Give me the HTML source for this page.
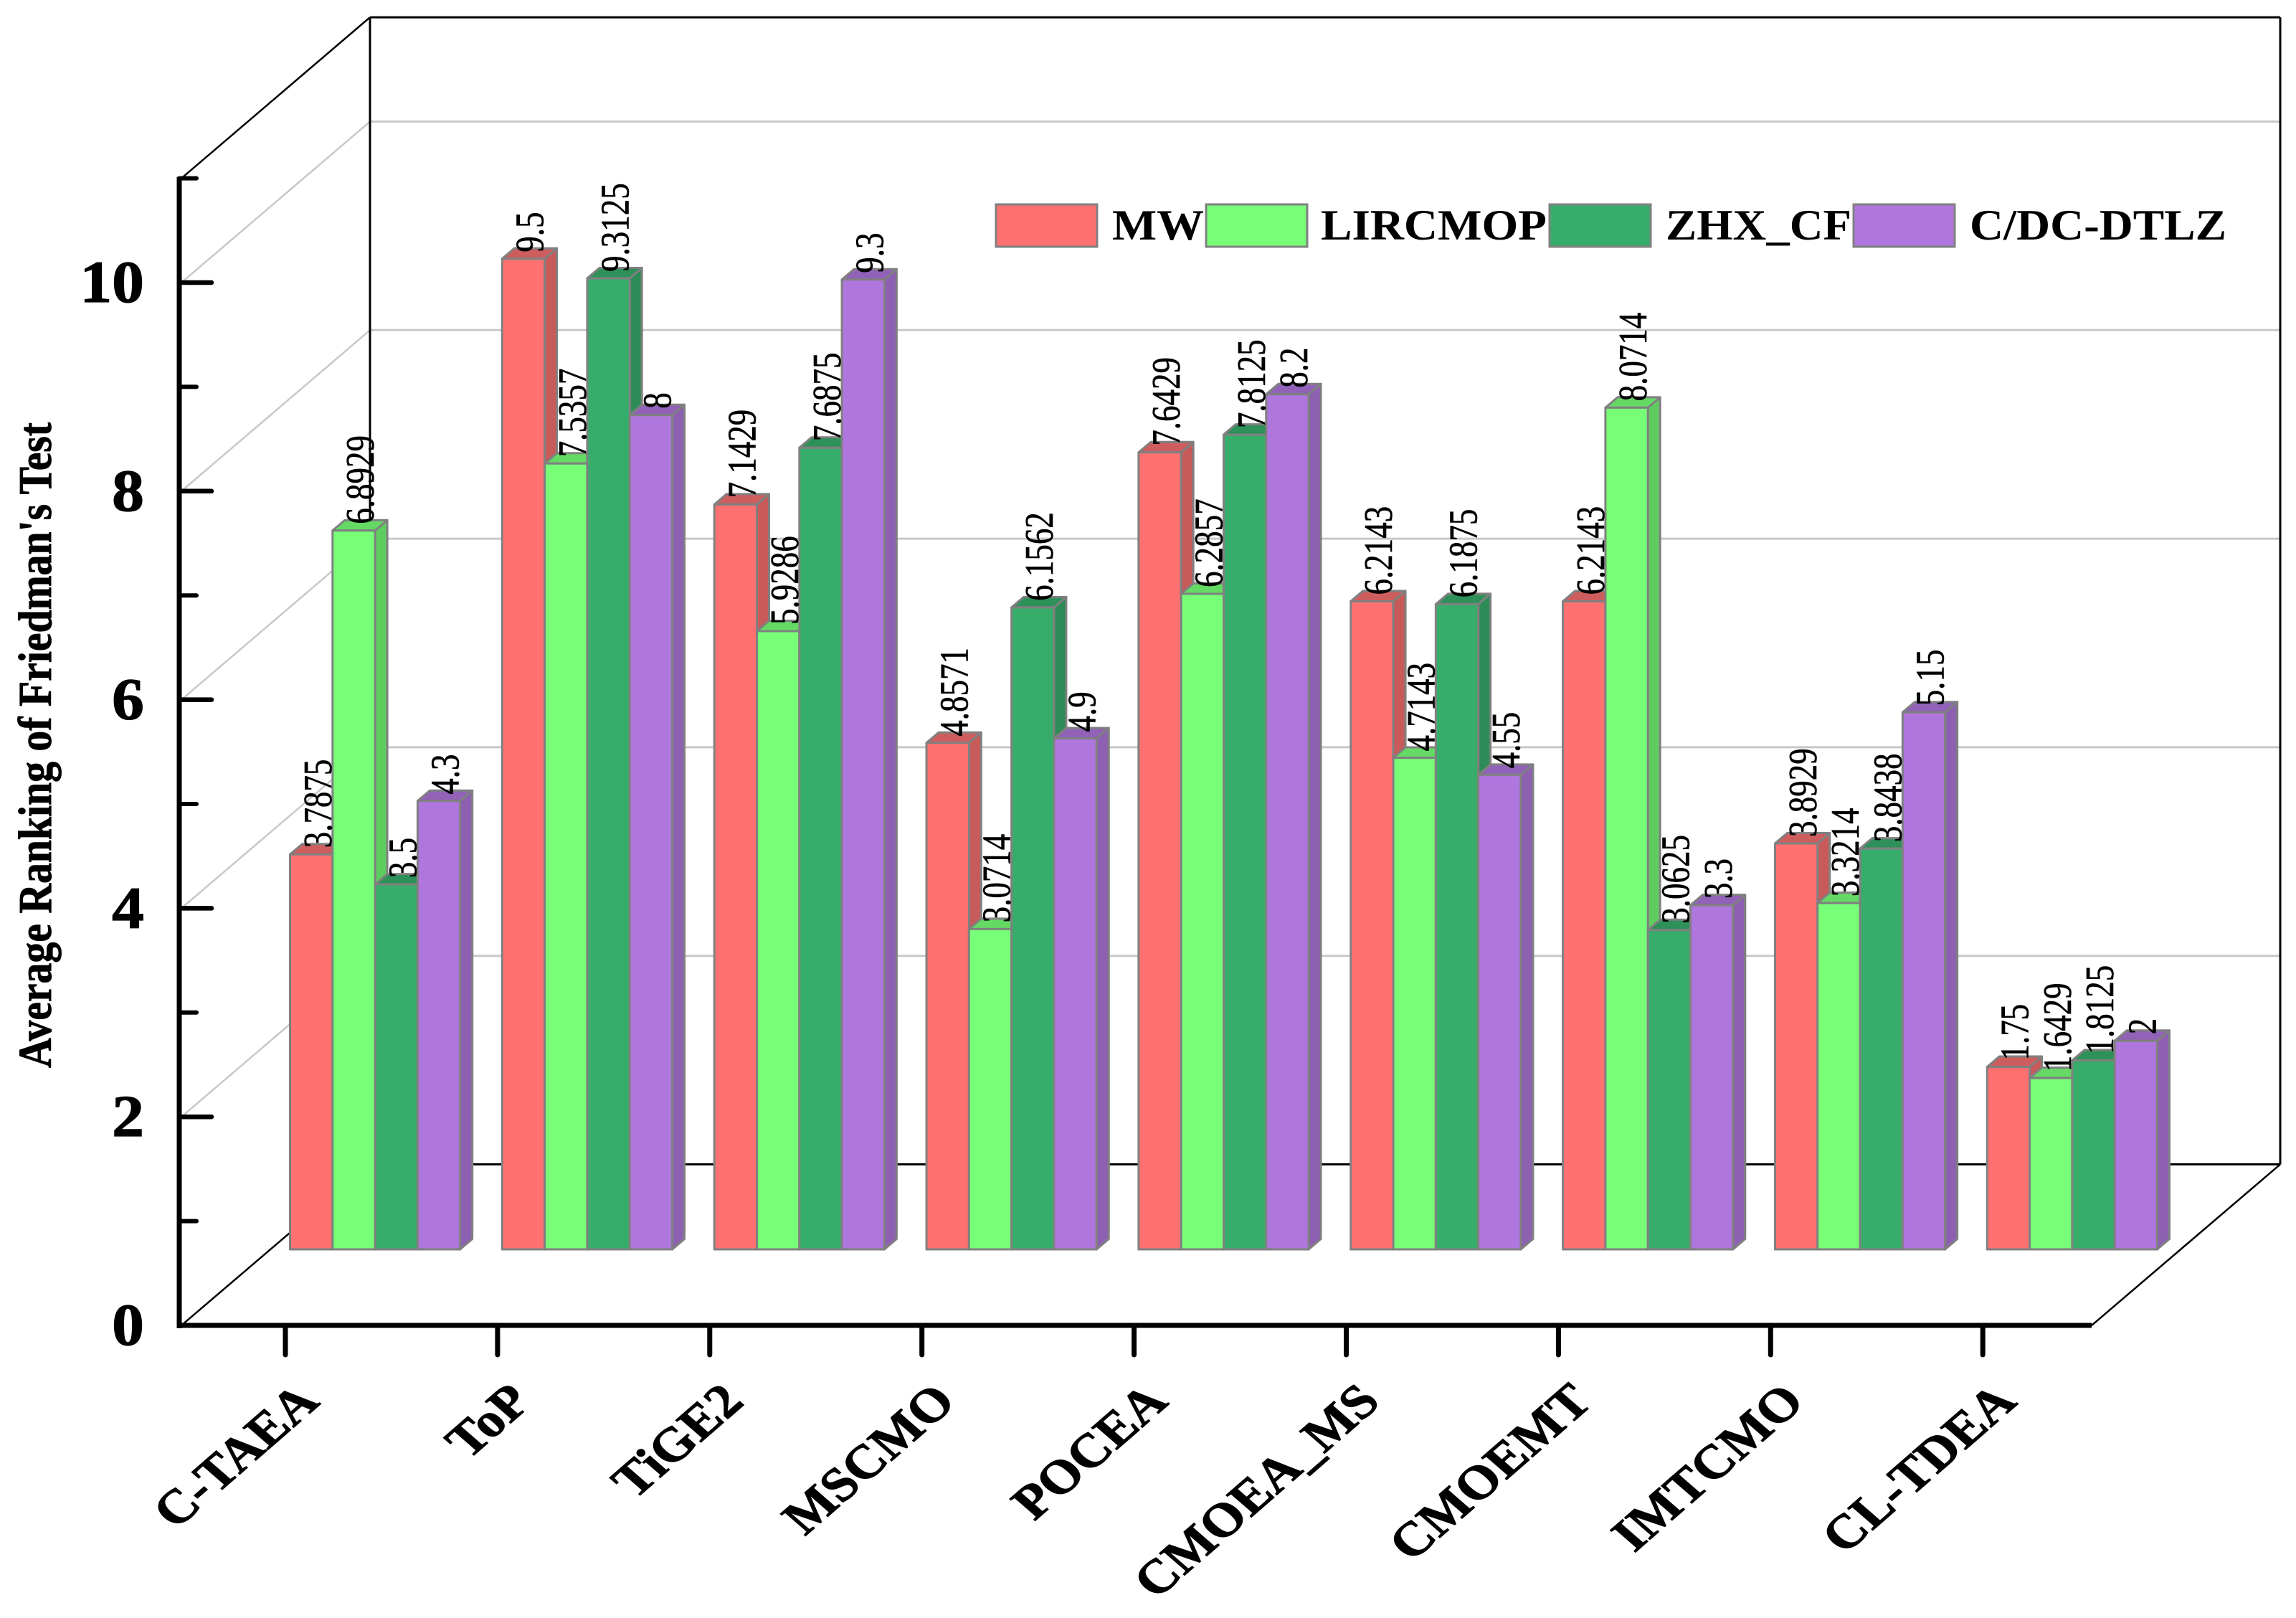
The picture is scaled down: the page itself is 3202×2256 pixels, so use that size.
<!DOCTYPE html>
<html lang="en">
<head>
<meta charset="utf-8">
<title>Average Ranking of Friedman's Test</title>
<style>
html,body{margin:0;padding:0;background:#fff}
body{width:3202px;height:2256px;overflow:hidden}
svg{display:block}
text{font-family:"Liberation Serif",serif;fill:#000}
</style>
</head>
<body>
<svg id="chart" xmlns="http://www.w3.org/2000/svg" width="3202" height="2256" viewBox="0 0 3202 2256">
  <rect x="0" y="0" width="3202" height="2256" fill="#ffffff"/>
  <g id="walls"></g>
  <g id="bars"></g>
  <g id="labels"></g>
  <g id="axes"></g>
  <text transform="translate(71,1489) scale(1.16,1) rotate(-90)" font-size="57" font-weight="bold" textLength="900" lengthAdjust="spacingAndGlyphs" stroke="#000" stroke-width="0.8">Average Ranking of Friedman's Test</text>
  <g font-weight="bold" font-size="60">
    <g>
      <rect x="1389" y="285" width="141" height="59" fill="#FF7070" stroke="#808080" stroke-width="3"/>
      <text x="1551" y="334" textLength="128" lengthAdjust="spacingAndGlyphs">MW</text>
    </g>
    <g>
      <rect x="1682" y="285" width="141" height="59" fill="#77FF77" stroke="#808080" stroke-width="3"/>
      <text x="1842" y="334" textLength="315" lengthAdjust="spacingAndGlyphs">LIRCMOP</text>
    </g>
    <g>
      <rect x="2161" y="285" width="141" height="59" fill="#37AD6C" stroke="#808080" stroke-width="3"/>
      <text x="2323" y="334" textLength="259" lengthAdjust="spacingAndGlyphs">ZHX_CF</text>
    </g>
    <g>
      <rect x="2585" y="285" width="141" height="59" fill="#AF77DD" stroke="#808080" stroke-width="3"/>
      <text x="2747" y="334" textLength="358" lengthAdjust="spacingAndGlyphs">C/DC-DTLZ</text>
    </g>
  </g>
</svg>
<script>
const categories = ["C-TAEA","ToP","TiGE2","MSCMO","POCEA","CMOEA_MS","CMOEMT","IMTCMO","CL-TDEA"];
const seriesNames = ["MW","LIRCMOP","ZHX_CF","C/DC-DTLZ"];
const valuesMW = [3.7875,9.5,7.1429,4.8571,7.6429,6.2143,6.2143,3.8929,1.75];
const valuesLIRCMOP = [6.8929,7.5357,5.9286,3.0714,6.2857,4.7143,8.0714,3.3214,1.6429];
const valuesZHX = [3.5,9.3125,7.6875,6.1562,7.8125,6.1875,3.0625,3.8438,1.8125];
const valuesCDC = [4.3,8,9.3,4.9,8.2,4.55,3.3,5.15,2];
const yTickLabels = [0,2,4,6,8,10];
const yMinorTicks = [1,3,5,7,9,11];
const frontColors = ["#FF7070","#77FF77","#37AD6C","#AF77DD"];
const sideColors = ["#C85A5A","#5FCC5F","#2D8C58","#8D60B2"];
const topColors = ["#CE5E5E","#64DA64","#2D9159","#9162B8"];

const NS = "http://www.w3.org/2000/svg";
const allSeries = [valuesMW, valuesLIRCMOP, valuesZHX, valuesCDC];
const UNIT = 145.4;
const frontY = v => 1848 - UNIT * v;
const backY = v => 1623.5 - UNIT * v;
const barY = v => 1742 - UNIT * v;
const FRONT_X = 253, BACK_X = 516, RIGHT_BACK_X = 3180, RIGHT_FRONT_X = 2917;
const barW = 59.3, depthX = 17, depthY = 14.5;
const barX = (g, s) => 404.5 + 295.85 * g + barW * s;
const tickX = g => 398 + 295.9 * g;
const slug = s => s.toLowerCase().replace(/[^a-z0-9]+/g, "-");

function make(parent, tag, attrs, content) {
  const n = document.createElementNS(NS, tag);
  for (const k in attrs) n.setAttribute(k, attrs[k]);
  if (content !== undefined) n.textContent = content;
  parent.appendChild(n);
  return n;
}
function line(parent, x1, y1, x2, y2, color, width, cap) {
  return make(parent, "line", {x1, y1, x2, y2, stroke: color, "stroke-width": width, "stroke-linecap": cap || "butt"});
}

const walls = document.getElementById("walls");
const barsG = document.getElementById("bars");
const labelsG = document.getElementById("labels");
const axesG = document.getElementById("axes");

/* gridlines */
yTickLabels.filter(v => v > 0).forEach(v => {
  const g1 = line(walls, FRONT_X, frontY(v), BACK_X, backY(v), "#c8c8c8", 2.5);
  
  
  const g2 = line(walls, BACK_X, backY(v), RIGHT_BACK_X, backY(v), "#c8c8c8", 3);
  
  
});

/* wall outline */
const floorBack = line(walls, BACK_X, backY(0), RIGHT_BACK_X, backY(0), "#000", 3);


const floorLeft = line(walls, FRONT_X, frontY(0), BACK_X, backY(0), "#000", 2.5);


const floorRight = line(walls, RIGHT_FRONT_X, frontY(0), RIGHT_BACK_X, backY(0), "#000", 2.5);


const wallLeft = line(walls, BACK_X, backY(11), BACK_X, backY(0), "#000", 3);


const wallRight = line(walls, RIGHT_BACK_X, backY(11), RIGHT_BACK_X, backY(0), "#000", 3);


const wallTop = line(walls, BACK_X, backY(11), RIGHT_BACK_X, backY(11), "#000", 3);


const wallDiag = line(walls, FRONT_X, frontY(11), BACK_X, backY(11), "#000", 2.5);



/* bars */
categories.forEach((cat, g) => {
  allSeries.forEach((vals, s) => {
    const v = vals[g];
    const x = barX(g, s), top = barY(v), base = barY(0);
    const grp = make(barsG, "g", {stroke: "#808080", "stroke-width": 3, "stroke-linejoin": "round"});
    
    
    make(grp, "polygon", {fill: sideColors[s], points: [x+barW,top, x+barW+depthX,top-depthY, x+barW+depthX,base-depthY, x+barW,base].join(" ")});
    make(grp, "polygon", {fill: topColors[s], points: [x,top, x+depthX,top-depthY, x+barW+depthX,top-depthY, x+barW,top].join(" ")});
    make(grp, "rect", {fill: frontColors[s], x: x, y: top, width: barW, height: base - top});
    const lab = make(labelsG, "text", {
      transform: "translate(" + (x + barW - 2) + "," + (top - 9) + ") scale(1.24,1) rotate(-90)",
      "font-size": 45, stroke: "#000", "stroke-width": 0.5
    }, String(v));
    
    
  });
});

/* axes */
const yAxis = line(axesG, 250, frontY(11) - 2, 250, frontY(0) + 4, "#000", 7);


const xAxis = line(axesG, 247, frontY(0), RIGHT_FRONT_X, frontY(0), "#000", 7);



yTickLabels.forEach(v => {
  if (v > 0) {
    const t = line(axesG, 250, frontY(v), 295, frontY(v), "#000", 6.5, "round");
    
    
  }
  const lab = make(axesG, "text", {
    transform: "translate(201," + (frontY(v) + 27) + ") scale(1.08,1)",
    "font-size": 83, "font-weight": "bold", "text-anchor": "end", stroke: "#000", "stroke-width": 1.2
  }, String(v));
  
  
});
yMinorTicks.forEach(v => {
  const t = line(axesG, 250, frontY(v), 274, frontY(v), "#000", 6, "round");
  
  
});
categories.forEach((cat, g) => {
  const t = line(axesG, tickX(g), frontY(0), tickX(g), 1889, "#000", 7, "round");
  
  
  const lab = make(axesG, "text", {
    transform: "translate(" + (tickX(g) + 50) + ",1957) scale(1.15,1) rotate(-45)",
    "font-size": 66.5, "font-weight": "bold", "text-anchor": "end", stroke: "#000", "stroke-width": 1
  }, cat);
  
  
});
</script>
</body>
</html>
